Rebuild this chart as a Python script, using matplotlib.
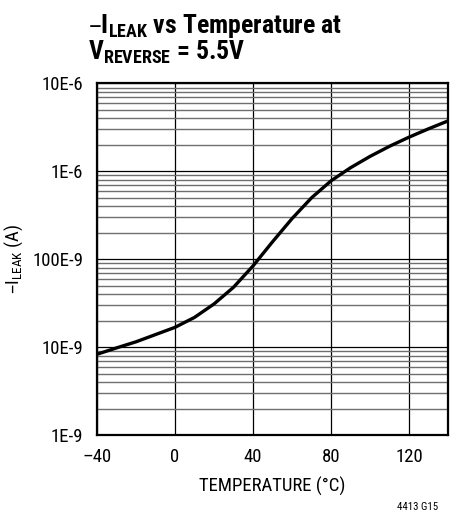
import matplotlib
matplotlib.use('Agg')
import matplotlib.pyplot as plt
from matplotlib.ticker import LogLocator, NullFormatter

plt.rcParams['font.family'] = ['Roboto Condensed', 'DejaVu Sans']

# values
temperature = [-40, -30, -20, -10, 0, 10, 20, 30, 40, 50, 60, 70, 80, 90, 100, 110, 120, 130, 140]
i_leak = [8.3e-9, 9.8e-9, 11.5e-9, 13.9e-9, 16.8e-9, 21.8e-9, 31e-9, 48e-9, 84e-9, 158e-9,
          290e-9, 500e-9, 780e-9, 1.1e-6, 1.48e-6, 1.93e-6, 2.45e-6, 3.05e-6, 3.75e-6]

x_ticks = [-40, 0, 40, 80, 120]
x_labels = ['\u201340', '0', '40', '80', '120']
y_ticks = [1e-9, 1e-8, 1e-7, 1e-6, 1e-5]
y_labels = ['1E-9', '10E-9', '100E-9', '1E-6', '10E-6']

fig = plt.figure(figsize=(4.5, 5.15), dpi=100)
ax = fig.add_axes([0.2156, 0.1553, 0.78, 0.6826])

ax.plot(temperature, i_leak, color='black', lw=2.4, solid_capstyle='round', zorder=5)

ax.set_yscale('log')
ax.set_xlim(-40, 140)
ax.set_ylim(1e-9, 1e-5)
ax.set_xticks(x_ticks)
ax.set_xticklabels(x_labels)
ax.set_yticks(y_ticks)
ax.set_yticklabels(y_labels)
ax.yaxis.set_minor_locator(LogLocator(base=10, subs=range(2, 10)))
ax.yaxis.set_minor_formatter(NullFormatter())
ax.tick_params(axis='both', which='both', length=0, labelsize=13.5)
ax.tick_params(axis='x', pad=9)
ax.tick_params(axis='y', pad=10)

ax.grid(True, which='major', color='black', lw=0.9)
ax.grid(True, which='minor', axis='y', color='#6e6e6e', lw=1.0)
for s in ax.spines.values():
    s.set_linewidth(1.6)

ax.set_xlabel('TEMPERATURE (\u00b0C)', fontsize=13.5, labelpad=8)
ax.set_ylabel('$\\mathregular{\u2013I_{LEAK}}$ (A)', fontsize=13.5)
ax.yaxis.set_label_coords(-0.205, 0.5)

fig.text(0.195, 0.977, '$\\mathregular{\u2013I_{LEAK}}$ vs Temperature at', fontsize=18.5,
         fontweight='bold', va='top', ha='left')
fig.text(0.195, 0.924, '$\\mathregular{V_{REVERSE}}$ = 5.5V', fontsize=18.5,
         fontweight='bold', va='top', ha='left')

fig.text(0.974, 0.0097, '4413 G15', fontsize=7.8, ha='right', va='baseline')

fig.savefig('out.png', dpi=100)
